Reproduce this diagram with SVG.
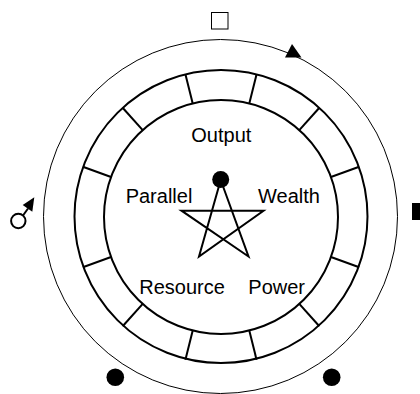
<svg xmlns="http://www.w3.org/2000/svg" width="420" height="394" viewBox="0 0 420 394">
  <style>
    .lbl { font-family: "Liberation Sans", Arial, sans-serif; font-size: 20px; fill: #000; text-anchor: middle; }
    .ring { fill: none; stroke: #000; stroke-width: 2; }
    .thin { fill: none; stroke: #000; stroke-width: 1; }
    .solid { fill: #000; stroke: none; }
  </style>
  <rect width="420" height="394" fill="#fff"/>
  <g id="outer-circle">
    <circle class="thin" cx="220.5" cy="216.5" r="177"/>
  </g>
  <g id="ring">
    <circle class="ring" cx="221" cy="216.5" r="146.5"/>
    <circle class="ring" cx="221" cy="217" r="117"/>
    <g id="dividers" transform="translate(221 217)" stroke="#000" stroke-width="2">
      <line x1="0" y1="-117" x2="0" y2="-147" transform="rotate(14)"/>
      <line x1="0" y1="-117" x2="0" y2="-147" transform="rotate(42)"/>
      <line x1="0" y1="-117" x2="0" y2="-147" transform="rotate(70)"/>
      <line x1="0" y1="-117" x2="0" y2="-147" transform="rotate(110)"/>
      <line x1="0" y1="-117" x2="0" y2="-147" transform="rotate(138)"/>
      <line x1="0" y1="-117" x2="0" y2="-147" transform="rotate(166)"/>
      <line x1="0" y1="-117" x2="0" y2="-147" transform="rotate(-14)"/>
      <line x1="0" y1="-117" x2="0" y2="-147" transform="rotate(-42)"/>
      <line x1="0" y1="-117" x2="0" y2="-147" transform="rotate(-70)"/>
      <line x1="0" y1="-117" x2="0" y2="-147" transform="rotate(-110)"/>
      <line x1="0" y1="-117" x2="0" y2="-147" transform="rotate(-138)"/>
      <line x1="0" y1="-117" x2="0" y2="-147" transform="rotate(-166)"/>
    </g>
  </g>
  <g id="star">
    <path d="M220.7,180 L248.5,256.5 L181.5,210.7 L263.5,210.7 L199,256.5 Z" fill="none" stroke="#000" stroke-width="2" stroke-linejoin="miter"/>
    <circle class="solid" cx="220.7" cy="179.5" r="8.5"/>
  </g>
  <g id="label-output"><text class="lbl" x="221.3" y="142">Output</text></g>
  <g id="label-parallel"><text class="lbl" x="159" y="203">Parallel</text></g>
  <g id="label-wealth"><text class="lbl" x="289" y="203">Wealth</text></g>
  <g id="label-resource"><text class="lbl" x="182" y="294">Resource</text></g>
  <g id="label-power"><text class="lbl" x="276.7" y="294">Power</text></g>
  <g id="marker-top-square"><rect x="211.5" y="12.5" width="16.5" height="16.5" fill="#fff" stroke="#000" stroke-width="1"/></g>
  <g id="marker-triangle"><polygon class="solid" points="292,44 285,57.5 301.5,57.5"/></g>
  <g id="marker-right-square"><rect class="solid" x="412" y="203" width="17" height="17"/></g>
  <g id="marker-mars">
    <circle cx="18.3" cy="221" r="7.2" fill="none" stroke="#000" stroke-width="2"/>
    <line x1="23" y1="215.5" x2="28" y2="208.5" stroke="#000" stroke-width="2"/>
    <polygon class="solid" points="34.3,197.3 22.7,205 32.3,211.7"/>
  </g>
  <g id="marker-dot-left"><circle class="solid" cx="115.3" cy="377.3" r="8.8"/></g>
  <g id="marker-dot-right"><circle class="solid" cx="331.7" cy="377.3" r="8.8"/></g>
</svg>
